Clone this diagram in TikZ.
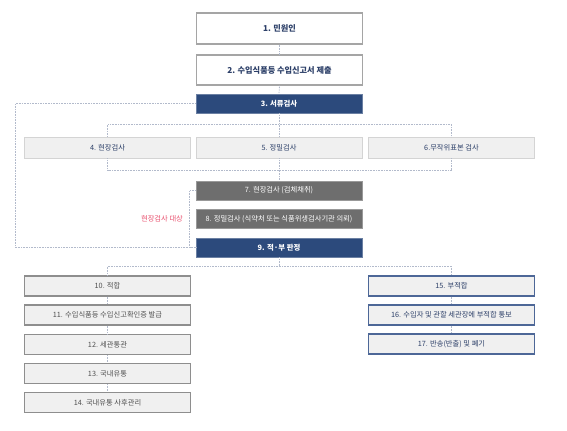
\documentclass[tikz,border=0pt]{standalone}
\usepackage{fontspec}
\setmainfont{Noto Sans CJK KR}
\usetikzlibrary{calc}
\definecolor{navy}{HTML}{2C4A7C}
\definecolor{navytext}{HTML}{2C3F68}
\definecolor{graybox}{HTML}{6E6E6E}
\definecolor{lightfill}{HTML}{F0F0F0}
\definecolor{lightborder}{HTML}{D4D4D4}
\definecolor{midborder}{HTML}{8E8E8E}
\definecolor{blueborder}{HTML}{4D6797}
\definecolor{dotcol}{HTML}{B2BACB}
\definecolor{redlabel}{HTML}{E8506E}
\definecolor{darktext}{HTML}{505050}
\begin{document}
\begin{tikzpicture}[x=1bp,y=-1bp,
  box/.style={rectangle,minimum width=166bp,inner sep=0pt,font=\fontsize{7.3}{8}\selectfont},
  topbox/.style={box,fill=white,draw=midborder!80,line width=1.2bp,text=navytext,font=\fontsize{8.2}{9}\selectfont\bfseries},
  navybox/.style={box,fill=navy,draw=navy!70!white,line width=0.6bp,text=white,font=\fontsize{7.4}{8}\selectfont\bfseries},
  darkbox/.style={box,fill=graybox,draw=graybox!70!white,line width=0.6bp,text=white},
  lightbox/.style={box,fill=lightfill,draw=lightborder,line width=0.8bp,text=navytext},
  passbox/.style={box,fill=lightfill,draw=midborder,line width=1.1bp,text=darktext},
  failbox/.style={box,fill=lightfill,draw=blueborder,line width=1.1bp,text=navytext},
  link/.style={draw=dotcol,line width=0.8bp,dash pattern=on 0.8bp off 0.8bp}
]
\useasboundingbox (0,0) rectangle (567,430);

\node[topbox,minimum height=31bp] (b1) at (279.5,28.5) {1. 민원인};
\node[topbox,minimum height=30bp] (b2) at (279.5,70) {2. 수입식품등 수입신고서 제출};
\node[navybox,minimum height=19bp] (b3) at (279,103.5) {3. 서류검사};

\node[lightbox,minimum height=21bp] (b4) at (107.5,147.5) {4. 현장검사};
\node[lightbox,minimum height=21bp] (b5) at (279,147.5) {5. 정밀검사};
\node[lightbox,minimum height=21bp] (b6) at (451.5,147.5) {6.무작위표본 검사};

\node[darkbox,minimum height=19bp] (b7) at (279,190.5) {7. 현장검사 (검체채취)};
\node[darkbox,minimum height=19bp] (b8) at (279,219) {8. 정밀검사 (식약처 또는 식품위생검사기관 의뢰)};
\node[navybox,minimum height=19bp] (b9) at (279,247.5) {9. 적·부 판정};

\node[font=\fontsize{7.3}{8}\selectfont,text=redlabel] (lab) at (162,218.5) {현장검사 대상};

\node[passbox,minimum height=20bp] (b10) at (107.5,286) {10. 적합};
\node[passbox,minimum height=20bp] (b11) at (107.5,315) {11. 수입식품등 수입신고확인증 발급};
\node[passbox,minimum height=20bp] (b12) at (107.5,344.5) {12. 세관통관};
\node[passbox,minimum height=20bp] (b13) at (107.5,373.5) {13. 국내유통};
\node[passbox,minimum height=20bp] (b14) at (107.5,402.5) {14. 국내유통 사후관리};

\node[failbox,minimum height=20bp] (b15) at (451.5,286) {15. 부적합};
\node[failbox,minimum height=20bp] (b16) at (451.5,315) {16. 수입자 및 관할 세관장에 부적합 통보};
\node[failbox,minimum height=20bp] (b17) at (451.5,344) {17. 반송(반출) 및 폐기};

\path[link] (b1.south) -- (b2.north);
\path[link] (b2.south) -- (b3.north);
\path[link] (b3.south) -- (b5.north);
\path[link] (b4.north) -- ++(0,-12) -| (b6.north);
\path[link] (b4.south) -- ++(0,11.5) -| (b6.south);
\path[link] (b5.south) -- (b7.north);
\path[link] (b3.west) -- (15.5,103.5) |- (b9.west);
\path[link] (b7.west) -- ++(-6,0) |- (b9.west);
\path[link] (b9.south) -- ++(0,9.5);
\path[link] (b10.north) -- ++(0,-9.5) -| (b15.north);
\path[link] (b10.south) -- (b11.north);
\path[link] (b11.south) -- (b12.north);
\path[link] (b12.south) -- (b13.north);
\path[link] (b13.south) -- (b14.north);
\path[link] (b15.south) -- (b16.north);
\path[link] (b16.south) -- (b17.north);
\end{tikzpicture}
\end{document}
